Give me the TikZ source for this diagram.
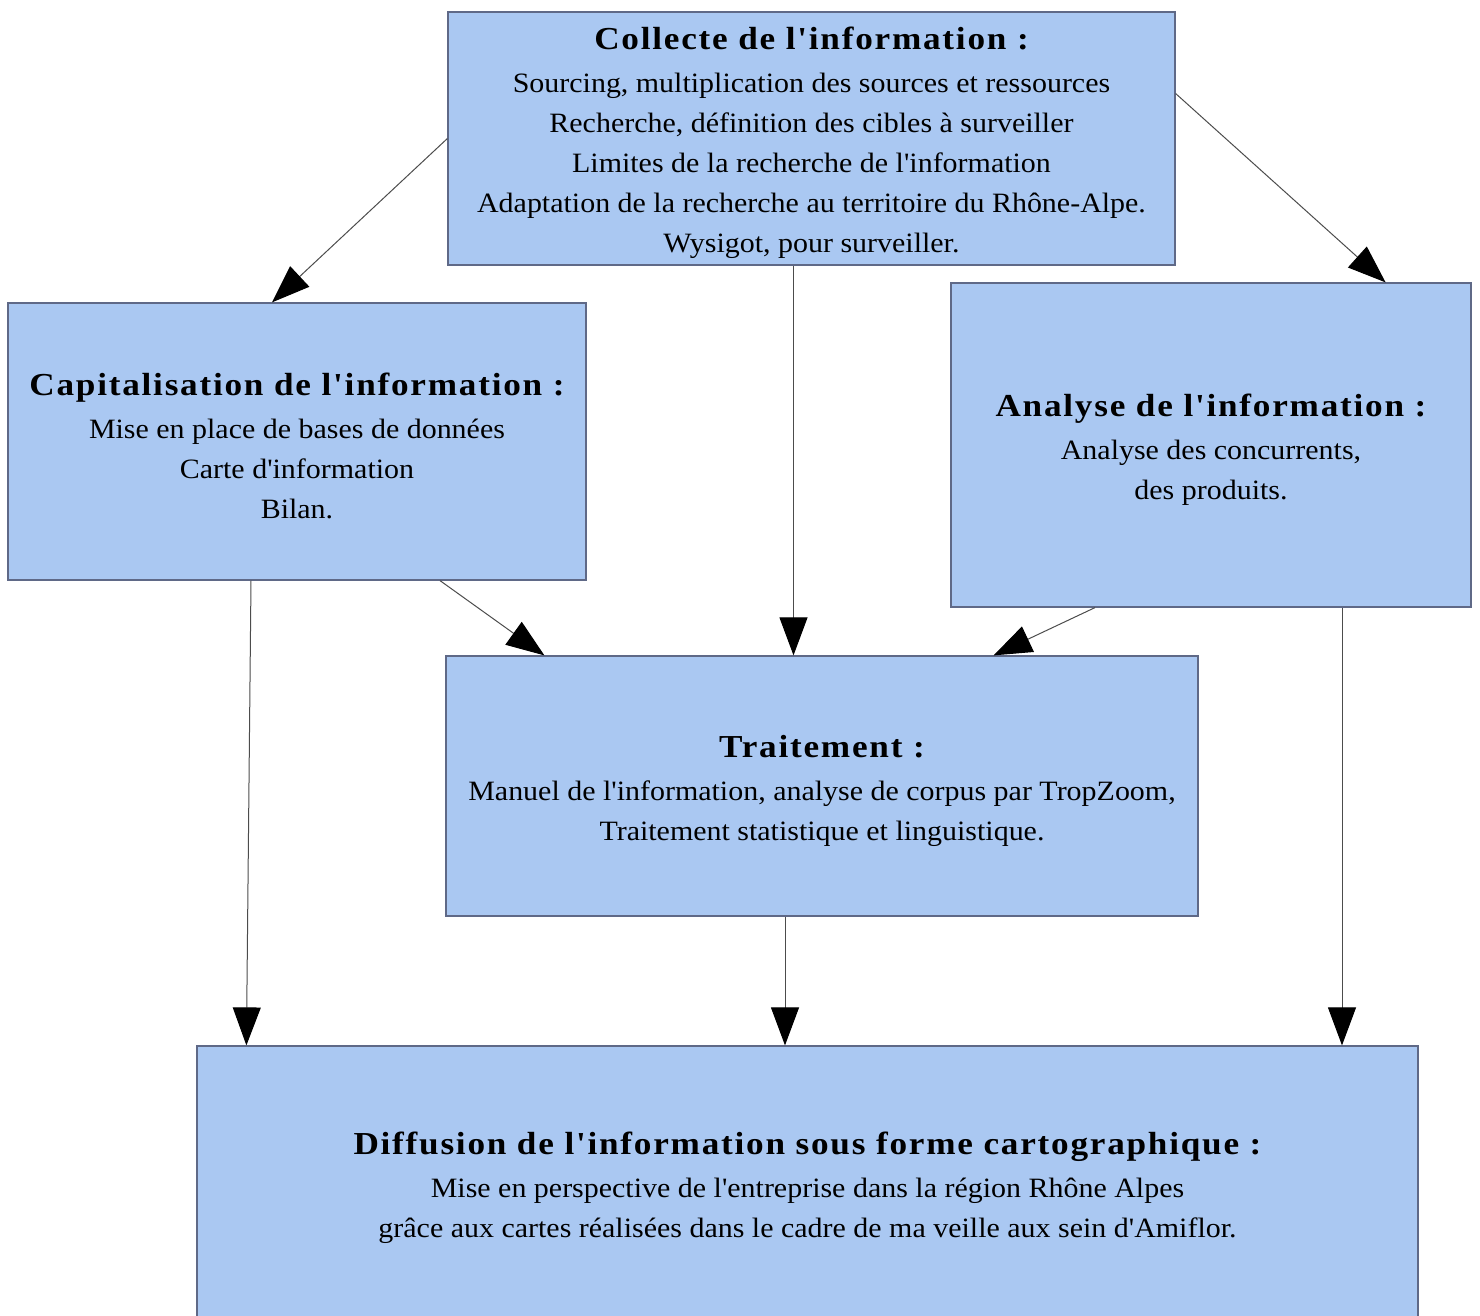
\documentclass[tikz,border=0pt]{standalone}
\usepackage{fontspec}
\setmainfont{Liberation Serif}[Ligatures=TeXOff, FakeStretch=1.07]
\newfontfamily\headfont{Liberation Serif}[Ligatures=TeXOff, FakeStretch=1.1, LetterSpace=5.5]
\usepackage{tikz}
\usetikzlibrary{arrows.meta,calc}
\definecolor{boxblue}{RGB}{170,200,242}
\definecolor{boxline}{RGB}{95,105,135}
\newcommand{\etape}[1]{\rule{0pt}{16pt}{\headfont\bfseries\fontsize{16}{20}\selectfont #1}\\[1.5pt]}

\begin{document}
\begin{tikzpicture}[x=0.5pt, y=-0.5pt,
  box/.style={rectangle, draw=boxline, line width=0.6pt, fill=boxblue, align=center, inner sep=0pt,
    font=\fontsize{14}{20}\selectfont},
  fleche/.style={-{Triangle[length=19pt,width=14pt,color=black]}, draw=black!70, line width=0.5pt}]
\useasboundingbox (0,0) rectangle (1480,1316);
\node[box, minimum width=363.5pt, minimum height=126.5pt] (collecte) at (811.5,138.5)
  {\etape{Collecte de l'information :}Sourcing, multiplication des sources et ressources\\
   Recherche, définition des cibles à surveiller\\
   Limites de la recherche de l'information\\
   Adaptation de la recherche au territoire du Rhône-Alpe.\\
   Wysigot, pour surveiller.};
\node[box, minimum width=289pt, minimum height=138.5pt] (capital) at (297,441.5)
  {\etape{Capitalisation de l'information :}Mise en place de bases de données\\
   Carte d'information\\
   Bilan.};
\node[box, minimum width=260pt, minimum height=162pt] (analyse) at (1211,445)
  {\etape{Analyse de l'information :}Analyse des concurrents,\\
   des produits.};
\node[box, minimum width=376pt, minimum height=130pt] (traitement) at (822,786)
  {\etape{Traitement :}Manuel de l'information, analyse de corpus par TropZoom,\\
   Traitement statistique et linguistique.};
\node[box, minimum width=610.5pt, minimum height=137pt] (diffusion) at (807.5,1183)
  {\etape{Diffusion de l'information sous forme cartographique :}Mise en perspective de l'entreprise dans la région Rhône Alpes\\
   grâce aux cartes réalisées dans le cadre de ma veille aux sein d'Amiflor.};
% liaisons
\draw[fleche] (collecte.west) -- ([xshift=-12.5pt]capital.north);
\draw[fleche] ([yshift=22.5pt]collecte.east) -- ([xshift=-43pt]analyse.north east);
\draw[fleche] ([xshift=-9pt]collecte.south) -- ([xshift=-9pt]collecte.south |- traitement.north);
\draw[fleche] ([xshift=71.5pt]capital.south) -- ([xshift=49.5pt]traitement.north west);
\draw[fleche] ([xshift=-58pt]analyse.south) -- ([xshift=-102.5pt]traitement.north east);
\draw[fleche] ([xshift=-23pt]capital.south) -- ([xshift=25pt]diffusion.north west);
\draw[fleche] ([xshift=-18.5pt]traitement.south) -- ([xshift=-18.5pt]traitement.south |- diffusion.north);
\draw[fleche] ([xshift=65.5pt]analyse.south) -- ([xshift=65.5pt]analyse.south |- diffusion.north);
\end{tikzpicture}
\end{document}
